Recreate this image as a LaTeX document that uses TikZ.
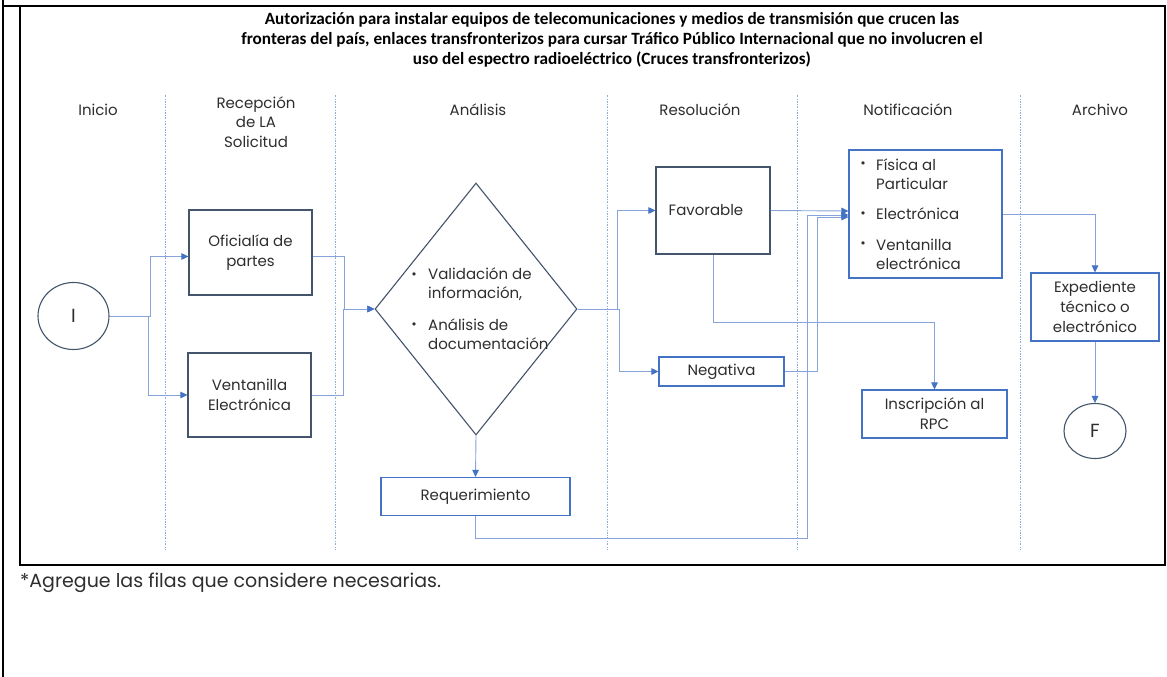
\documentclass[tikz,border=0pt]{standalone}
\usepackage{fontspec}
\setmainfont{Poppins}
\newfontfamily\titlefont{Carlito}
\newfontfamily\bulfont{DejaVu Sans}
\usetikzlibrary{shapes.geometric,arrows.meta,calc}
\definecolor{dkbox}{HTML}{44546A}
\definecolor{bluebx}{HTML}{4472C4}
\definecolor{connc}{HTML}{86A3DB}
\definecolor{txt}{HTML}{2E2E2E}
\definecolor{divc}{HTML}{8FAADC}
\begin{document}
\begin{tikzpicture}[x=1pt,y=-1pt,
  darkbox/.style={draw=dkbox, line width=1.1pt, fill=white, inner sep=0, text=txt,
    font=\fontsize{15}{20}\selectfont, align=center},
  bluebox/.style={draw=bluebx, line width=1.1pt, fill=white, inner sep=0, text=txt,
    font=\fontsize{15}{20}\selectfont, align=center},
  txtn/.style={text=txt, font=\fontsize{15}{19}\selectfont, align=left, inner sep=0},
  bul/.style={text=txt, font=\bulfont\fontsize{11}{11}\selectfont, inner sep=0},
  lane/.style={text=txt, font=\fontsize{15}{19.5}\selectfont, align=center, inner sep=0},
  divider/.style={draw=divc, line width=0.6pt, dash pattern=on 2pt off 1.5pt on 0.6pt off 1.5pt},
  connector/.style={draw=connc, line width=0.9pt},
  arr/.style={connector, -{Triangle[length=7pt,width=6.5pt,color=bluebx]}}
]
\useasboundingbox (0,0) rectangle (1167,677);
\fill[white] (0,0) rectangle (1167,677);
% frame
\draw[black, line width=2pt] (3,0) -- (3,677);
\draw[black, line width=2.5pt] (3,6) -- (20,6);
\draw[black, line width=2pt] (20,6) rectangle (1165,565);

% title
\node[inner sep=0, align=center, font=\titlefont\bfseries\fontsize{17.2}{20}\selectfont] (title) at (612,40)
 {Autorización para instalar equipos de telecomunicaciones y medios de transmisión que crucen las\\
  fronteras del país, enlaces transfronterizos para cursar Tráfico Público Internacional que no involucren el\\
  uso del espectro radioeléctrico (Cruces transfronterizos)};

% lane headers
\node[lane] (h1) at (98,110) {Inicio};
\node[lane] (h2) at (256,122) {Recepción\\de LA\\Solicitud};
\node[lane] (h3) at (478,110) {Análisis};
\node[lane] (h4) at (700,110) {Resolución};
\node[lane] (h5) at (908,110) {Notificación};
\node[lane] (h6) at (1100,110) {Archivo};

% dividers
\foreach \xx in {165,335,607,797,1020}
  \draw[divider] (\xx,95) -- (\xx,550);

% nodes
\node[darkbox, ellipse, minimum width=71pt, minimum height=67pt, font=\fontsize{19}{20}\selectfont] (I) at (73.5,316) {I};
\node[darkbox, minimum width=123pt, minimum height=85pt] (ofi) at (250.5,252.5) {Oficialía de\\partes};
\node[darkbox, minimum width=123pt, minimum height=84pt] (vent) at (249.5,395) {Ventanilla\\Electrónica};
\node[darkbox, diamond, minimum width=202pt, minimum height=252pt] (dia) at (476,309) {};
\node[bul] (b1) at (414,276) {•};
\node[txtn, anchor=west] (d1) at (428,284) {Validación de\\información,};
\node[bul] (b2) at (414,326) {•};
\node[txtn, anchor=west] (d2) at (428,334) {Análisis de\\documentación};
\node[bluebox, minimum width=189pt, minimum height=38pt] (req) at (475.5,496.5) {Requerimiento};
\node[darkbox, minimum width=114pt, minimum height=87pt] (favo) at (713,210.5) {\hspace*{-14pt}Favorable};
\node[bluebox, minimum width=125pt, minimum height=29pt] (neg) at (721.5,371.5) {Negativa};
\node[bluebox, minimum width=153pt, minimum height=128pt] (notif) at (925.5,214) {};
\node[bul] (nb1) at (863,165) {•};
\node[txtn, anchor=west] (n1) at (876,174) {Física al\\Particular};
\node[bul] (nb2) at (863,215) {•};
\node[txtn, anchor=west] (n2) at (876,214) {Electrónica};
\node[bul] (nb3) at (863,245) {•};
\node[txtn, anchor=west] (n3) at (876,254) {Ventanilla\\electrónica};
\node[bluebox, minimum width=128pt, minimum height=68pt] (exp) at (1095,307) {Expediente\\técnico o\\electrónico};
\node[bluebox, minimum width=145pt, minimum height=48pt] (insc) at (934.5,414) {Inscripción al\\RPC};
\node[darkbox, ellipse, minimum width=62pt, minimum height=55pt, font=\fontsize{19}{20}\selectfont] (F) at (1095,431) {F};

% connectors
\draw[arr] (I.east) -- (150,316) |- ($(ofi.west)+(0,4)$);
\draw[arr] (I.east) -- (148,316) |- (vent.west);
\draw[arr] ($(ofi.east)+(0,4)$) -- (344,256.5) -- (344,309) -- (dia.west);
\draw[arr] (vent.east) -- (343,395) -- (343,309) -- (dia.west);
\draw[arr] (dia.east) -- (617,309) |- (favo.west);
\draw[arr] (dia.east) -- (619,309) |- (neg.west);
\draw[arr] (dia.south) -- (req.north);
\draw[arr] (favo.east) -- ($(notif.west)+(0,-3)$);
\draw[arr] (neg.east) -| (817,217) -- ($(notif.west)+(0,3)$);
\draw[arr] (req.south) -- (475.5,538) -- (807,538) -- (807,215) -- ($(notif.west)+(0,1)$);
\draw[arr] (favo.south) -- (713,322) -| (insc.north);
\draw[arr] (notif.east) -| (exp.north);
\draw[arr] (exp.south) -- (F.north);

% footer
\node[inner sep=0, anchor=west, text=txt, font=\fontsize{19}{22}\selectfont] (foot) at (20,583)
 {*Agregue las filas que considere necesarias.};
\end{tikzpicture}
\end{document}
